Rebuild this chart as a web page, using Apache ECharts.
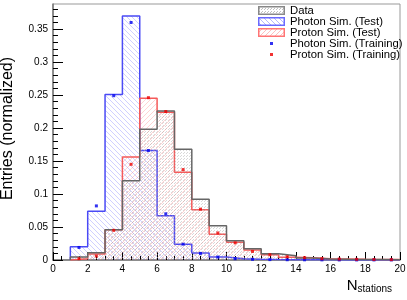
<!DOCTYPE html>
<html>
<head>
<meta charset="utf-8">
<script src="https://cdn.jsdelivr.net/npm/echarts@6/dist/echarts.min.js"></script>
<style>html,body{margin:0;padding:0;background:#fff}#c{width:407px;height:300px}</style>
</head>
<body>
<div id="c"></div>
<script>
// ---- data ----
const binEdges = [1,2,3,4,5,6,7,8,9,10,11,12,13,14,15,16,17,18,19,20];
const binCenters = [1.5,2.5,3.5,4.5,5.5,6.5,7.5,8.5,9.5,10.5,11.5,12.5,13.5,14.5,15.5,16.5,17.5,18.5,19.5];
const dataHist    = [0.0045,0.011,0.046,0.120,0.198,0.226,0.168,0.092,0.052,0.029,0.017,0.0095,0.0065,0.003,0.0015,0.001,0.0008,0.0006,0.0004];
const photonTest  = [0.020,0.074,0.251,0.370,0.166,0.067,0.024,0.0106,0.0045,0.002,0.001,0.0006,0.0004,0.0003,0.0002,0.0001,0.0001,0.0001,0.0001];
const protonTest  = [0.002,0.009,0.046,0.156,0.245,0.224,0.133,0.076,0.039,0.027,0.015,0.008,0.004,0.0035,0.002,0.0015,0.001,0.0008,0.0006];
const photonTrain = [0.019,0.082,0.249,0.360,0.166,0.070,0.024,0.010,0.0045,0.002,0.001,0.0006,0.0004,0.0003,0.0002,0.0001,0.0001,0.0001,0.0001];
const protonTrain = [0.002,0.006,0.045,0.145,0.246,0.225,0.137,0.077,0.041,0.026,0.013,0.008,0.005,0.0035,0.002,0.0015,0.001,0.0008,0.0006];
const xTicks = [0,2,4,6,8,10,12,14,16,18,20];
const yTicks = [0,0.05,0.1,0.15,0.2,0.25,0.3,0.35];
const legendNames = ['Data','Photon Sim. (Test)','Proton Sim. (Test)','Photon Sim. (Training)','Proton Sim. (Training)'];

// ---- helpers ----
function stepData(vals){
  const pts = [[binEdges[0],0]];
  for (let i=0;i<vals.length;i++) pts.push([binEdges[i], vals[i]]);
  pts.push([binEdges[binEdges.length-1], vals[vals.length-1]]);
  pts.push([binEdges[binEdges.length-1], 0]);
  return pts;
}
function makePattern(kind, color){
  const c = document.createElement('canvas');
  const n = kind==='dots' ? 3 : 5;
  c.width = n; c.height = n;
  const ctx = c.getContext('2d');
  ctx.fillStyle = color;
  if (kind==='dots'){ ctx.fillRect(0,0,1,1); ctx.fillRect(1,2,1,1); }
  else for (let i=0;i<n;i++){
    const x = kind==='back' ? i : n-1-i;
    ctx.fillRect(x,i,1,1);
  }
  return c;
}
function boxIcon(kind, fill, border){
  const c = document.createElement('canvas');
  c.width = 27; c.height = 9;
  const ctx = c.getContext('2d');
  const p = ctx.createPattern(makePattern(kind, fill), 'repeat');
  ctx.fillStyle = p; ctx.fillRect(1,1,25,7);
  ctx.strokeStyle = border; ctx.lineWidth = 1.5; ctx.strokeRect(0.75,0.75,25.5,7.5);
  return 'image://' + c.toDataURL();
}
function dotIcon(color){
  const c = document.createElement('canvas');
  c.width = 27; c.height = 9;
  const ctx = c.getContext('2d');
  ctx.fillStyle = color; ctx.fillRect(12,3,3,3);
  return 'image://' + c.toDataURL();
}

const cBlue = '#4a4af5', cRed = '#f55a5a', cData = '#666666';
const patBlue = makePattern('back', 'rgba(110,110,255,0.32)');
const patRed  = makePattern('fwd',  'rgba(255,120,120,0.32)');
const patData = makePattern('dots', 'rgba(160,160,160,0.4)');

const yMinor = [];
for (let k=1;k<=38;k++){ if (k%5!==0) yMinor.push(k/100); }

const chart = echarts.init(document.getElementById('c'), null, {renderer:'canvas'});
const font = 'Liberation Sans, Arial, Helvetica, sans-serif';
chart.setOption({
  animation:false,
  backgroundColor:'#fff',
  textStyle:{fontFamily:font},
  grid:{left:53,right:7,top:4,bottom:40,show:true,borderColor:'#999',borderWidth:1,backgroundColor:'transparent',
        containLabel:false, outerBoundsMode:'none'},
  legend:{
    left:253, top:0, orient:'vertical', itemWidth:27, itemHeight:9, itemGap:0,
    selectedMode:false,
    textStyle:{fontFamily:font,fontSize:11.3,color:'#000',lineHeight:10.6},
    data:[
      {name:legendNames[0], icon:boxIcon('dots','rgba(150,150,150,0.6)','#888')},
      {name:legendNames[1], icon:boxIcon('back','rgba(90,90,255,0.45)','#6a6aff')},
      {name:legendNames[2], icon:boxIcon('fwd','rgba(255,110,110,0.45)','#ff7575')},
      {name:legendNames[3], icon:dotIcon('#0000ee')},
      {name:legendNames[4], icon:dotIcon('#ee0000')}
    ]
  },
  xAxis:{
    type:'value', min:0, max:20, interval:2,
    name:'{n|N}{s|stations}', nameLocation:'end', nameGap:-8, nameMoveOverlap:false,
    nameTextStyle:{align:'right',verticalAlign:'top',padding:[18,0,0,0],
      rich:{n:{fontSize:15,fontFamily:font,color:'#000',lineHeight:16,verticalAlign:'top'},
            s:{fontSize:10,fontFamily:font,color:'#000',lineHeight:10,verticalAlign:'bottom',padding:[11,0,0,0]}}},
    axisLine:{show:true,lineStyle:{color:'#777',width:1.5}},
    axisTick:{show:true,inside:true,length:8,lineStyle:{color:'#000',width:1}},
    minorTick:{show:true,splitNumber:4,length:4,lineStyle:{color:'#000',width:1}},
    splitLine:{show:false},
    axisLabel:{fontSize:10,color:'#000',margin:4,fontFamily:font,customValues:xTicks}
  },
  yAxis:[{
    type:'value', min:0, max:0.388,
    name:'Entries (normalized)', nameLocation:'middle', nameGap:37, nameMoveOverlap:false,
    nameTextStyle:{fontSize:16,color:'#000',fontFamily:font,padding:[0,0,0,7]},
    axisLine:{show:true,lineStyle:{color:'#777',width:1.5}},
    axisTick:{show:true,inside:true,length:10,customValues:yTicks,lineStyle:{color:'#000',width:1}},
    splitLine:{show:false},
    axisLabel:{fontSize:10,color:'#000',margin:5,fontFamily:font,customValues:yTicks,
      formatter:v=>v===0?'0':String(+v.toFixed(2))}
  },{
    type:'value', min:0, max:0.388, position:'left',
    axisLine:{show:false},
    axisTick:{show:true,inside:true,length:5,customValues:yMinor,lineStyle:{color:'#000',width:1}},
    axisLabel:{show:false}, splitLine:{show:false}
  }],
  series:[
    {name:legendNames[1], type:'line', step:'end', data:stepData(photonTest), showSymbol:false, symbol:'none',
     lineStyle:{color:cBlue,width:1.5}, itemStyle:{color:cBlue},
     areaStyle:{color:{image:patBlue,repeat:'repeat'},opacity:1}, z:2},
    {name:legendNames[2], type:'line', step:'end', data:stepData(protonTest), showSymbol:false, symbol:'none',
     lineStyle:{color:cRed,width:1.5}, itemStyle:{color:cRed},
     areaStyle:{color:{image:patRed,repeat:'repeat'},opacity:1}, z:3},
    {name:legendNames[0], type:'line', step:'end', data:stepData(dataHist), showSymbol:false, symbol:'none',
     lineStyle:{color:cData,width:1.5}, itemStyle:{color:cData},
     areaStyle:{color:{image:patData,repeat:'repeat'},opacity:1}, z:4},
    {name:legendNames[3], type:'scatter', symbol:'rect', symbolSize:3,
     data:binCenters.map((x,i)=>[x,photonTrain[i]]), itemStyle:{color:'#0000ee'}, z:6},
    {name:legendNames[4], type:'scatter', symbol:'rect', symbolSize:3,
     data:binCenters.map((x,i)=>[x,protonTrain[i]]), itemStyle:{color:'#ee0000'}, z:7}
  ]
});
</script>
</body>
</html>
